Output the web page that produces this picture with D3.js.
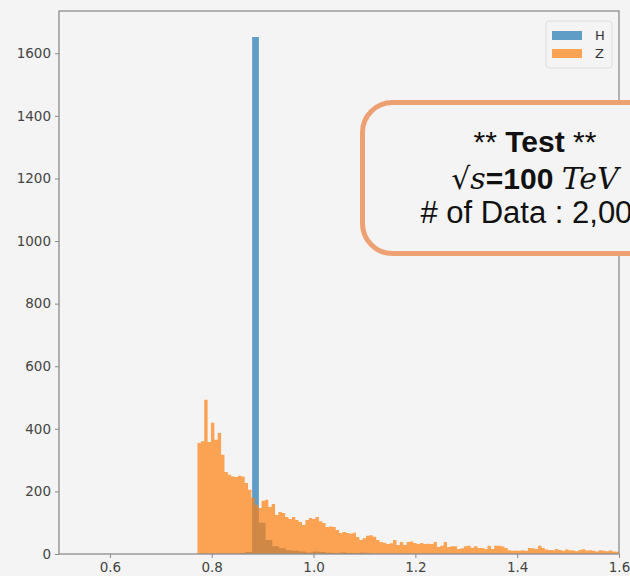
<!DOCTYPE html>
<html>
<head>
<meta charset="utf-8">
<script src="https://d3js.org/d3.v7.min.js"></script>
<style>
  html, body { margin: 0; padding: 0; background: #f4f4f4; overflow: hidden; }
  .tick text { font-family: "DejaVu Sans", sans-serif; font-size: 13.5px; fill: #444; }
  .tick line { stroke: #888; }
</style>
</head>
<body>
<script>
// H histogram: bin edges start, bin width, counts
var hStart = 0.853;
var hBinWidth = 0.0132;
var hCounts = [3, 6, 1652, 100, 45, 25, 18, 12, 10, 8, 5, 8, 6, 4, 3, 5, 3, 2, 4, 2];

// Z histogram: range and counts (equal-width bins over the range)
var zStart = 0.772;
var zEnd = 1.6;
var zCounts = [
  355, 360, 493, 358, 419, 365, 387, 317, 262, 253,
  248, 246, 250, 248, 227, 205, 180, 157, 147, 170,
  173, 150, 160, 125, 134, 131, 118, 112, 118, 109,
  102, 93, 109, 115, 112, 118, 105, 99, 86, 88,
  86, 77, 67, 70, 67, 65, 68, 54, 45, 50,
  58, 60, 55, 45, 38, 36, 32, 34, 45, 29,
  38, 29, 38, 40, 35, 32, 35, 32, 33, 32,
  38, 22, 26, 38, 22, 25, 25, 16, 18, 25,
  26, 20, 25, 19, 19, 16, 26, 16, 26, 26,
  24, 19, 12, 10, 11, 10, 12, 10, 19, 18,
  16, 26, 19, 14, 13, 12, 16, 13, 10, 14,
  12, 11, 9, 13, 15, 11, 12, 10, 8, 12,
  10, 9, 11, 8, 7
];

var xTicks = [0.6, 0.8, 1.0, 1.2, 1.4, 1.6];
var yTicks = [0, 200, 400, 600, 800, 1000, 1200, 1400, 1600];
var legendNames = ["H", "Z"];

var W = 630, H = 576;
var margin = { top: 11, left: 59 };
var plotW = 560, plotH = 543;

var svg = d3.select("body").append("svg")
  .attr("width", W)
  .attr("height", H);

svg.append("rect").attr("width", W).attr("height", H).attr("fill", "#f4f4f4");

var x = d3.scaleLinear().domain([0.5, 1.6]).range([0, plotW]);
var y = d3.scaleLinear().domain([0, 1735]).range([plotH, 0]);

var g = svg.append("g")
  .attr("transform", "translate(" + margin.left + "," + margin.top + ")");

// step outline from edges + counts
function histPoints(start, width, counts) {
  var pts = counts.map(function (c, i) { return [start + i * width, c]; });
  pts.push([start + counts.length * width, counts[counts.length - 1]]);
  return pts;
}

var area = d3.area()
  .x(function (d) { return x(d[0]); })
  .y0(y(0))
  .y1(function (d) { return y(d[1]); })
  .curve(d3.curveStepAfter);

var zWidth = (zEnd - zStart) / zCounts.length;

g.append("path")
  .attr("d", area(histPoints(hStart, hBinWidth, hCounts)))
  .attr("fill", "#1f77b4")
  .attr("fill-opacity", 0.7);

g.append("path")
  .attr("d", area(histPoints(zStart, zWidth, zCounts)))
  .attr("fill", "#ff7f0e")
  .attr("fill-opacity", 0.7);

// axes
g.append("g")
  .attr("transform", "translate(0," + plotH + ")")
  .call(d3.axisBottom(x).tickValues(xTicks).tickFormat(d3.format(".1f")).tickSize(4).tickPadding(4))
  .call(function (a) { a.select(".domain").remove(); });

g.append("g")
  .call(d3.axisLeft(y).tickValues(yTicks).tickFormat(d3.format("d")).tickSize(4).tickPadding(4))
  .call(function (a) { a.select(".domain").remove(); });

// frame
g.append("rect")
  .attr("width", plotW)
  .attr("height", plotH)
  .attr("fill", "none")
  .attr("stroke", "#8c8c8c")
  .attr("stroke-width", 1.3);

// legend
var leg = svg.append("g").attr("transform", "translate(546,21)");
leg.append("rect")
  .attr("width", 66).attr("height", 47)
  .attr("rx", 3)
  .attr("fill", "#f4f4f4")
  .attr("stroke", "#dcdcdc");
var legColors = ["#1f77b4", "#ff7f0e"];
legendNames.forEach(function (n, i) {
  leg.append("rect")
    .attr("x", 6).attr("y", 10 + i * 18)
    .attr("width", 30).attr("height", 9)
    .attr("fill", legColors[i]).attr("fill-opacity", 0.7);
  leg.append("text")
    .attr("x", 49).attr("y", 19 + i * 18)
    .style("font-family", "DejaVu Sans, sans-serif")
    .style("font-size", "13px")
    .attr("fill", "#333")
    .text(n);
});

// annotation box (runs off the right edge of the figure)
svg.append("rect")
  .attr("x", 362.5).attr("y", 102.5)
  .attr("width", 345).attr("height", 151)
  .attr("rx", 30)
  .attr("fill", "#f4f4f4")
  .attr("stroke", "#eda172")
  .attr("stroke-width", 5);

var cx = 535;
var t1 = svg.append("text")
  .attr("x", cx).attr("y", 152)
  .attr("text-anchor", "middle")
  .style("font-family", "Liberation Sans, Arial, sans-serif")
  .style("font-size", "30px")
  .attr("fill", "#111");
t1.append("tspan").text("** ");
t1.append("tspan").style("font-weight", "bold").text("Test");
t1.append("tspan").text(" **");

var t2 = svg.append("text")
  .attr("x", cx).attr("y", 189)
  .attr("text-anchor", "middle")
  .style("font-size", "30px")
  .attr("fill", "#111");
t2.append("tspan").style("font-family", "DejaVu Serif, serif").text("\u221A");
t2.append("tspan").style("font-family", "DejaVu Serif, serif").style("font-style", "italic").text("s");
t2.append("tspan").style("font-family", "Liberation Sans, Arial, sans-serif").style("font-weight", "bold").text("=100 ");
t2.append("tspan").style("font-family", "DejaVu Serif, serif").style("font-style", "italic").text("TeV");

svg.append("text")
  .attr("x", cx).attr("y", 223)
  .attr("text-anchor", "middle")
  .style("font-family", "Liberation Sans, Arial, sans-serif")
  .style("font-size", "31px")
  .attr("fill", "#111")
  .text("# of Data : 2,000");
</script>
</body>
</html>
